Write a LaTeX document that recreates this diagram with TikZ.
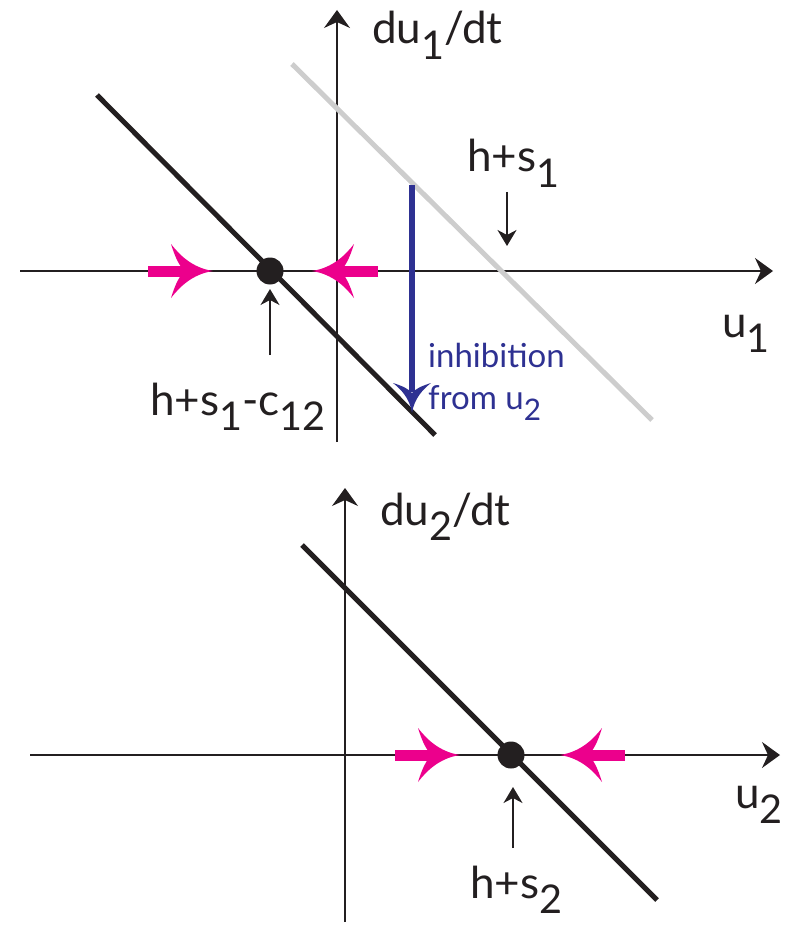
\documentclass[tikz,border=0pt]{standalone}
\usepackage{fontspec}
\setmainfont{Lato}
\usetikzlibrary{arrows.meta}
\definecolor{mag}{HTML}{EC008C}
\definecolor{navy}{HTML}{2E3192}
\definecolor{ink}{HTML}{231F20}
\definecolor{ghost}{HTML}{CDCDCD}
\newcommand\lsub[1]{\raisebox{-0.36em}{\scalebox{0.9}{#1}}}
\tikzset{
  axis/.style={draw=ink, line width=1.5pt, -{Stealth[length=18pt,width=26pt,inset=6pt]}},
  pointer/.style={draw=ink, line width=1.5pt, -{Stealth[length=16pt,width=19pt,inset=5pt]}},
  nullcline/.style={draw=ink, line width=5pt},
  oldcline/.style={draw=ghost, line width=5pt},
  shaft/.style={draw=mag, line width=11pt},
  fixpt/.style={circle, fill=ink, minimum size=27pt, inner sep=0pt},
  lbl/.style={anchor=base west, inner sep=0pt, text=ink, font=\fontsize{44}{48}\selectfont},
  bluelbl/.style={anchor=base west, inner sep=0pt, text=navy, font=\fontsize{33}{36}\selectfont},
  spear/.pic={\fill (0,0) .. controls (-0.5,0.06) and (-0.8,0.3) .. (-1,0.5)
     .. controls (-0.9,0.25) and (-0.8,0.08) .. (-0.66,0)
     .. controls (-0.8,-0.08) and (-0.9,-0.25) .. (-1,-0.5)
     .. controls (-0.8,-0.3) and (-0.5,-0.06) .. cycle;}
}
\begin{document}
\begin{tikzpicture}[x=1pt,y=-1pt]
\useasboundingbox (0,0) rectangle (797,925);
% ---------- top panel ----------
\coordinate (h1L) at (20,271); \coordinate (h1R) at (773,271);
\coordinate (v1B) at (337,442); \coordinate (v1T) at (337,10);
\draw[axis] (h1L) -- (h1R);
\draw[axis] (v1B) -- (v1T);
\coordinate (g1a) at (292,64); \coordinate (g1b) at (652,420);
\draw[oldcline] (g1a) -- (g1b);
\coordinate (k1a) at (97,95); \coordinate (k1b) at (435,435);
\draw[nullcline] (k1a) -- (k1b);
\node[fixpt] (fp1) at (270,271) {};
% magenta arrows
\coordinate (m1s) at (148,271); \coordinate (m1e) at (190,271);
\draw[shaft] (m1s) -- (m1e);
\pic[fill=mag, xscale=42, yscale=54] at (213,271) {spear};
\coordinate (m2s) at (378,271); \coordinate (m2e) at (335,271);
\draw[shaft] (m2s) -- (m2e);
\pic[fill=mag, rotate=180, xscale=42, yscale=54] at (312,271) {spear};
% blue inhibition arrow
\coordinate (bs) at (412,185); \coordinate (be) at (412,392);
\draw[navy, line width=6pt] (bs) -- (be);
\pic[fill=navy, rotate=-90, xscale=30, yscale=38] at (412,413) {spear};
% pointers
\coordinate (p1s) at (270,355); \coordinate (p1e) at (270,289);
\draw[pointer] (p1s) -- (p1e);
\coordinate (p2s) at (507,192); \coordinate (p2e) at (507,246);
\draw[pointer] (p2s) -- (p2e);
% labels
\node[lbl] (ldu1) at (372,44) {du\lsub{1}/dt};
\node[lbl] (lhs1) at (467,172) {h+s\lsub{1}};
\node[lbl] (lu1) at (722,337) {u\lsub{1}};
\node[lbl] (lhsc) at (150,415) {h+s\lsub{1}-c\lsub{12}};
\node[bluelbl] (linh) at (428,367) {inhibition};
\node[bluelbl] (lfrom) at (428,409) {from u\lsub{2}};
% ---------- bottom panel ----------
\coordinate (h2L) at (30,755); \coordinate (h2R) at (780,755);
\coordinate (v2B) at (345,922); \coordinate (v2T) at (345,488);
\draw[axis] (h2L) -- (h2R);
\draw[axis] (v2B) -- (v2T);
\coordinate (k2a) at (302,545); \coordinate (k2b) at (657,900);
\draw[nullcline] (k2a) -- (k2b);
\node[fixpt] (fp2) at (511,755) {};
\coordinate (m3s) at (395,755); \coordinate (m3e) at (437,755);
\draw[shaft] (m3s) -- (m3e);
\pic[fill=mag, xscale=42, yscale=54] at (460,755) {spear};
\coordinate (m4s) at (625,755); \coordinate (m4e) at (583,755);
\draw[shaft] (m4s) -- (m4e);
\pic[fill=mag, rotate=180, xscale=42, yscale=54] at (560,755) {spear};
\coordinate (p3s) at (513,848); \coordinate (p3e) at (513,787);
\draw[pointer] (p3s) -- (p3e);
\node[lbl] (ldu2) at (380,525) {du\lsub{2}/dt};
\node[lbl] (lu2) at (735,808) {u\lsub{2}};
\node[lbl] (lhs2) at (470,898) {h+s\lsub{2}};
\end{tikzpicture}
\end{document}
